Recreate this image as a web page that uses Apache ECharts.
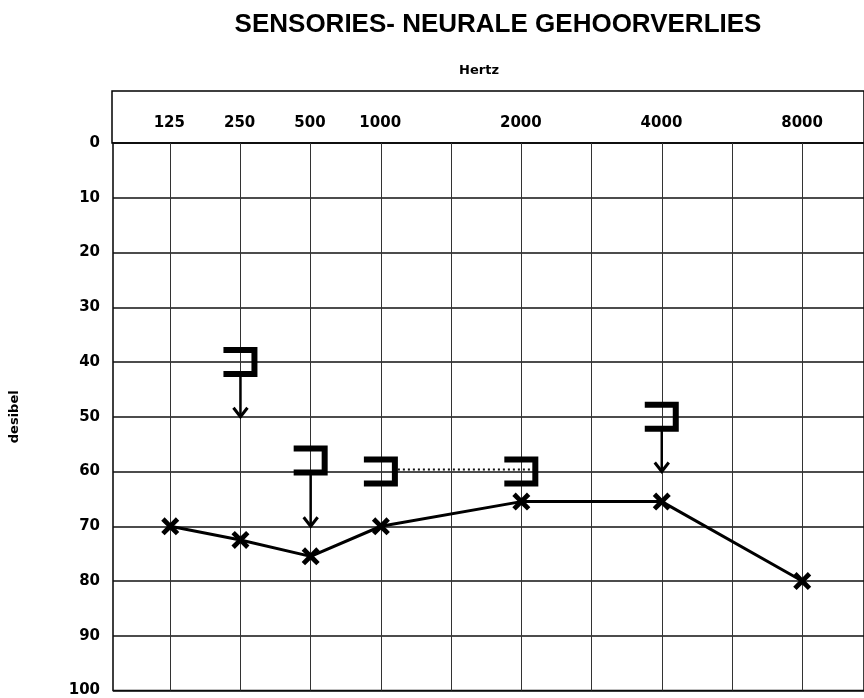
<!DOCTYPE html>
<html>
<head>
<meta charset="utf-8">
<title>Sensories-neurale gehoorverlies</title>
<script src="https://cdn.jsdelivr.net/npm/echarts@6/dist/echarts.min.js"></script>
<style>
  html, body { margin: 0; padding: 0; background: #fff; }
  #chart { width: 864px; height: 698px; }
</style>
</head>
<body>
<div id="chart"></div>
<script>
// kolomme van die oudiogram: 125..8000 plus halwe oktawe (1500, 3000, 6000)
var freqLabels = ['125', '250', '500', '1000', '2000', '4000', '8000'];
var freqCols = [1, 2, 3, 4, 6, 8, 10];
var gridCols = [1, 2, 3, 4, 5, 6, 7, 8, 9, 10];
var dbTicks = [0, 100];

// lugoorgeleiding (X)
var airDb = [70, 72.5, 75.5, 70, 65.5, 65.5, 80];

// beengeleiding, gemaskeer ( ] ), met pyltjie = geen respons
var boneCols = [2, 3, 4, 6, 8];
var boneDb = [40, 58, 60, 60, 50];
var boneArrowTo = [50, 70, '-', '-', 60];

// stippellyn tussen 1000 en 2000
var linkCols = [4, 6];
var linkDb = [60, 60];

var XMIN = 0.185, XMAX = 10.88;

var labelFont = { color: '#000', fontFamily: 'DejaVu Sans', fontWeight: 'bold', fontSize: 15 };

function renderBone(params, api) {
  var c = api.coord([api.value(0), api.value(1)]);
  var x0 = c[0] - 17, x1 = c[0] + 14, y0 = c[1] - 12, y1 = c[1] + 12;
  var kids = [{
    type: 'polyline',
    shape: { points: [[x0, y0], [x1, y0], [x1, y1], [x0, y1]] },
    style: { stroke: '#000', lineWidth: 6, fill: null, lineJoin: 'miter' }
  }];
  var to = api.value(2);
  if (!isNaN(to)) {
    var e = api.coord([api.value(0), to]);
    kids.push({
      type: 'line',
      shape: { x1: c[0], y1: y1, x2: e[0], y2: e[1] },
      style: { stroke: '#000', lineWidth: 2.5 }
    });
    kids.push({
      type: 'polyline',
      shape: { points: [[e[0] - 7, e[1] - 9], [e[0], e[1]], [e[0] + 7, e[1] - 9]] },
      style: { stroke: '#000', lineWidth: 3, fill: null }
    });
  }
  return { type: 'group', children: kids };
}

// stippellyn loop van die regterkant van die een hakie tot by die volgende
function renderLink(params, api) {
  var a = api.coord([api.value(0), api.value(2)]);
  var b = api.coord([api.value(1), api.value(2)]);
  return {
    type: 'line',
    shape: { x1: a[0] + 17, y1: a[1] - 2, x2: b[0] + 14, y2: b[1] - 2 },
    style: { stroke: '#111', lineWidth: 2, lineDash: [2, 3] }
  };
}

var chart = echarts.init(document.getElementById('chart'));
chart.setOption({
  animation: false,
  backgroundColor: '#fff',
  title: [{
    text: 'SENSORIES- NEURALE GEHOORVERLIES',
    left: 493, top: 7, textAlign: 'center',
    textStyle: { fontFamily: 'Liberation Sans', fontWeight: 'bold', fontSize: 26, color: '#000' }
  }, {
    text: 'Hertz',
    left: 474, top: 59, textAlign: 'center',
    textStyle: { fontFamily: 'DejaVu Sans', fontWeight: 'bold', fontSize: 13, color: '#000' }
  }],
  grid: [
    { left: 112, right: 0, top: 143, bottom: 7, show: true, borderColor: '#000', borderWidth: 1.5 },
    { left: 112, right: 0, top: 91, height: 52, show: true, borderColor: '#000', borderWidth: 1.5 }
  ],
  xAxis: [{
    gridIndex: 0, type: 'value', min: XMIN, max: XMAX,
    axisLine: { show: false },
    axisTick: { show: false, customValues: gridCols },
    axisLabel: { show: false },
    splitLine: { show: true, lineStyle: { color: '#333', width: 1 } }
  }, {
    gridIndex: 1, type: 'value', position: 'top', min: XMIN, max: XMAX,
    axisLine: { show: false },
    axisTick: { show: false, customValues: freqCols },
    splitLine: { show: false },
    axisLabel: Object.assign({
      inside: true, margin: 25, customValues: freqCols,
      formatter: function (v) { return freqLabels[freqCols.indexOf(v)]; }
    }, labelFont)
  }],
  yAxis: [{
    gridIndex: 0, type: 'value', inverse: true,
    min: dbTicks[0], max: dbTicks[1], interval: 10,
    name: 'desibel', nameLocation: 'middle', nameRotate: 90, nameGap: 92,
    nameTextStyle: { color: '#000', fontFamily: 'DejaVu Sans', fontWeight: 'bold', fontSize: 13 },
    axisLine: { show: false },
    axisTick: { show: false },
    axisLabel: Object.assign({ margin: 13 }, labelFont),
    splitLine: { show: true, lineStyle: { color: '#111', width: 1.5 } }
  }, {
    gridIndex: 1, type: 'value', show: false, min: 0, max: 1
  }],
  series: [{
    type: 'custom', name: 'skakel', xAxisIndex: 0, yAxisIndex: 0,
    renderItem: renderLink,
    data: [[linkCols[0], linkCols[1], linkDb[0]]],
    z: 3
  }, {
    type: 'line', name: 'lug', xAxisIndex: 0, yAxisIndex: 0,
    data: freqCols.map(function (c, i) { return [c, airDb[i]]; }),
    symbol: 'path://M0,3 L3,0 L8,5 L13,0 L16,3 L11,8 L16,13 L13,16 L8,11 L3,16 L0,13 L5,8 Z',
    symbolSize: 18,
    itemStyle: { color: '#000' },
    lineStyle: { color: '#000', width: 3 },
    z: 5
  }, {
    type: 'custom', name: 'been', xAxisIndex: 0, yAxisIndex: 0,
    renderItem: renderBone,
    data: boneCols.map(function (c, i) { return [c, boneDb[i], boneArrowTo[i]]; }),
    z: 4
  }]
});
</script>
</body>
</html>
